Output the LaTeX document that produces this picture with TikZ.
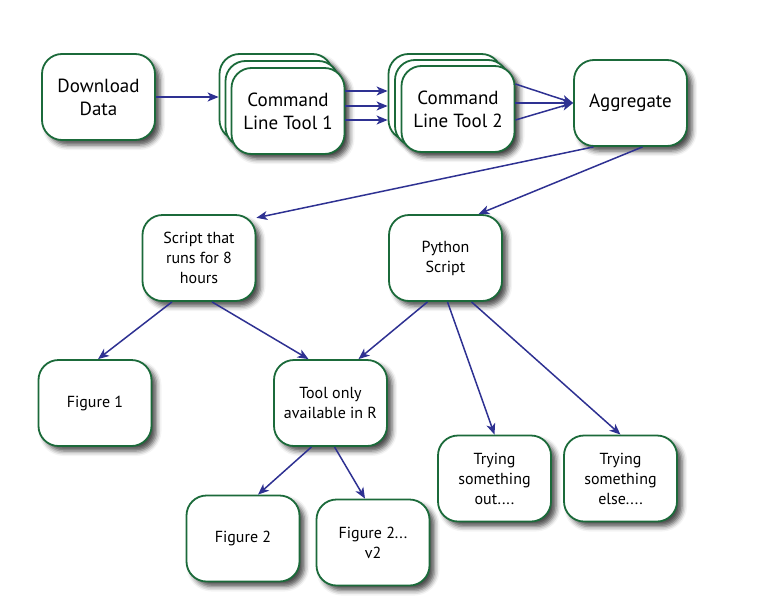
\documentclass[tikz,border=0pt]{standalone}
\usepackage{fontspec}
\setmainfont{PT Sans}
\usetikzlibrary{arrows.meta,shadows.blur}

\definecolor{boxgreen}{HTML}{1B6A3A}
\definecolor{flowblue}{HTML}{2E3192}

\tikzset{
    box/.style={draw=boxgreen, line width=1.8pt, fill=white, rounded corners=20pt,
        minimum width=113pt, minimum height=86pt, align=center,
        font=\fontsize{19}{23}\selectfont,
        blur shadow={shadow xshift=5pt, shadow yshift=-5pt, shadow blur radius=5pt, shadow opacity=70}},
    smallbox/.style={box, font=\fontsize{16}{20}\selectfont},
    flow/.style={draw=flowblue, line width=1.5pt, -{Stealth[length=11pt,width=9pt,inset=3pt]}}
}

\begin{document}
\begin{tikzpicture}[x=1pt,y=-1pt]

    \useasboundingbox (0,0) rectangle (759,605);

    % Top row
    \node[box] (dl) at (98.5,97) {Download\\Data};

    % Stack of command line tools
    \node[box] (clt1c) at (276,97) {};
    \node[box] (clt1b) at (282,104) {};
    \node[box] (clt1) at (288,111) {Command\\Line Tool 1};

    \node[box] (clt2c) at (445,97) {};
    \node[box] (clt2b) at (451.5,103) {};
    \node[box] (clt2) at (458,109) {Command\\Line Tool 2};

    \node[box] (agg) at (630.5,103) {Aggregate};

    % Second row
    \node[smallbox] (script) at (199,258) {Script that\\runs for 8\\hours};
    \node[smallbox] (py) at (445.5,258) {Python\\Script};

    % Third row
    \node[smallbox] (fig1) at (95,403) {Figure 1};
    \node[smallbox] (tool) at (330.5,403) {Tool only\\available in R};
    \node[smallbox] (try1) at (494.5,478.5) {Trying\\something\\out....};
    \node[smallbox] (try2) at (620.5,478.5) {Trying\\something\\else....};

    % Bottom row
    \node[smallbox] (fig2) at (243,538.5) {Figure 2};
    \node[smallbox] (fig2v) at (373,542.5) {Figure 2...\\v2};

    % Arrows along the top
    \draw[flow] (dl.east) -- (clt1c.west);
    \draw[flow] ([yshift=20pt]clt1.east) -- ([yshift=20pt]clt1.east -| clt2c.west);
    \draw[flow] ([yshift=5pt]clt1.east) -- ([yshift=5pt]clt1.east -| clt2c.west);
    \draw[flow] ([yshift=-9pt]clt1.east) -- ([yshift=-9pt]clt1.east -| clt2c.west);
    \draw[flow] ([yshift=25pt]clt2.east) -- (agg.west);
    \draw[flow] ([yshift=6pt]clt2.east) -- (agg.west);
    \draw[flow] ([yshift=-11pt]clt2.east) -- (agg.west);

    % Arrows from aggregate
    \draw[flow] ([xshift=-37pt]agg.south) -- (script.35);
    \draw[flow] ([xshift=12pt]agg.south) -- ([xshift=33pt]py.north);

    % Arrows further down
    \draw[flow] ([xshift=-27pt]script.south) -- ([xshift=3pt]fig1.north);
    \draw[flow] ([xshift=13pt]script.south) -- ([xshift=-22pt]tool.north);
    \draw[flow] ([xshift=-18pt]py.south) -- ([xshift=28pt]tool.north);
    \draw[flow] ([xshift=2pt]py.south) -- (try1.north);
    \draw[flow] ([xshift=26pt]py.south) -- (try2.north);
    \draw[flow] ([xshift=-19pt]tool.south) -- ([xshift=15pt]fig2.north);
    \draw[flow] ([xshift=4pt]tool.south) -- ([xshift=-8pt]fig2v.north);

\end{tikzpicture}
\end{document}
